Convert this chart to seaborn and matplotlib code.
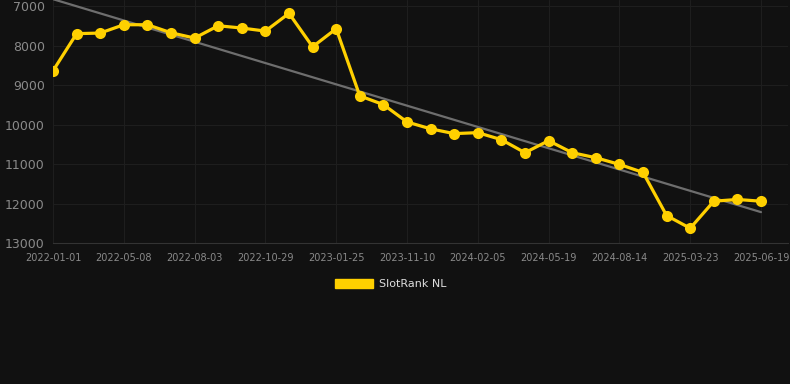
import matplotlib
matplotlib.use("Agg")
import matplotlib.pyplot as plt
import seaborn as sns
import numpy as np

# data
rank_values = [8640, 7700, 7685, 7474, 7474, 7677, 7812, 7500, 7558, 7635,
               7186, 8033, 7575, 9276, 9496, 9936, 10110, 10231, 10206, 10384,
               10714, 10409, 10714, 10841, 11010, 11213, 12305, 12627, 11942, 11898,
               11942]
tick_labels = ["2022-01-01", "2022-05-08", "2022-08-03", "2022-10-29", "2023-01-25",
               "2023-11-10", "2024-02-05", "2024-05-19", "2024-08-14", "2025-03-23",
               "2025-06-19"]
y_ticks = [7000, 8000, 9000, 10000, 11000, 12000, 13000]
series_name = "SlotRank NL"

idx = np.arange(len(rank_values))

sns.set_theme(style="dark")
plt.rcParams['font.family'] = ['DejaVu Sans']
bg = "#111111"
fig = plt.figure(figsize=(7.9, 3.84), dpi=100, facecolor=bg)
ax = fig.add_axes([53/790, 141/384, (788-53)/790, 243/384])
ax.set_facecolor(bg)

sns.regplot(x=idx, y=rank_values, scatter=False, ci=None, ax=ax,
            line_kws=dict(color="#6e6e6e", linewidth=1.6, zorder=2))
sns.lineplot(x=idx, y=rank_values, ax=ax, color="#FFD000", linewidth=2.3,
             marker="o", markersize=8, markeredgewidth=0, zorder=3,
             label=series_name, legend=False)

ax.set_xlim(0, 30 + 27/23.6)
ax.set_ylim(13000, 6848)
ax.set_yticks(y_ticks)
ax.set_yticklabels([str(v) for v in y_ticks], color="#8a8a8a", fontsize=9)
ax.set_xticks(idx[::3])
ax.set_xticklabels(tick_labels, color="#8a8a8a", fontsize=7)
ax.tick_params(axis="y", length=0, pad=6)
ax.tick_params(axis="x", length=3, color="#333333", pad=4)
ax.grid(True, color="#1e1e1e", linewidth=0.8)
for s in ["top", "right", "left"]:
    ax.spines[s].set_visible(False)
ax.spines["bottom"].set_color("#333333")
ax.spines["bottom"].set_linewidth(0.8)
ax.set_xlabel("")
ax.set_ylabel("")

from matplotlib.patches import Patch
handle = Patch(facecolor="#FFD000", edgecolor="#FFD000")
leg = fig.legend([handle], [series_name], loc="center", bbox_to_anchor=(391/790, 1 - 284/384),
                 frameon=False, handlelength=3.4, handleheight=0.95, fontsize=8,
                 labelcolor="#dddddd", handletextpad=0.6)

fig.savefig("out.png", dpi=100, facecolor=bg)
